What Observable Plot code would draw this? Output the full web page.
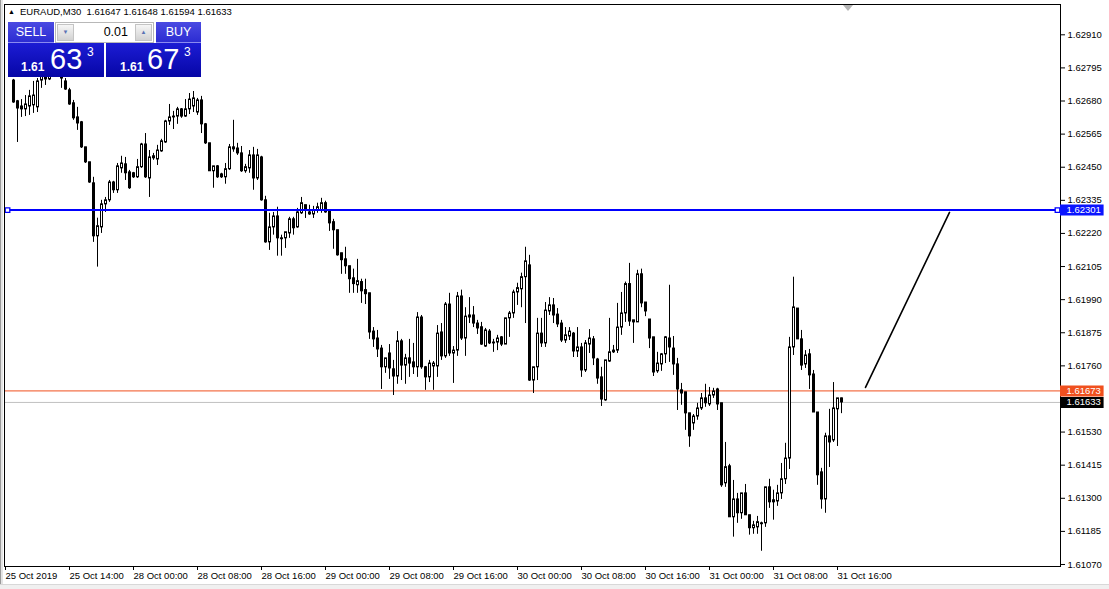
<!DOCTYPE html>
<html><head><meta charset="utf-8">
<script src="https://cdn.jsdelivr.net/npm/d3@7"></script>
<script src="https://cdn.jsdelivr.net/npm/@observablehq/plot@0.6"></script>
<style>
html,body{margin:0;padding:0;background:#fff;}
#wrap{position:relative;width:1109px;height:589px;overflow:hidden;background:#fff;font-family:"Liberation Sans",Arial,sans-serif;}
#chart{position:absolute;left:0;top:0;}
.edgeL{position:absolute;left:0;top:0;width:1px;height:589px;background:#9a9a9a;}
.edgeL2{position:absolute;left:1px;top:0;width:2px;height:589px;background:#e4e4e4;}
.edgeB{position:absolute;left:0;top:584px;width:1109px;height:5px;background:#f0f0f0;border-top:1px solid #d8d8d8;}
.shift{position:absolute;left:843px;top:5px;width:0;height:0;border-left:5px solid transparent;border-right:5px solid transparent;border-top:6px solid #b4b4b4;}
.hdr{position:absolute;left:20px;top:6px;font-size:9.5px;line-height:12px;color:#000;white-space:pre;}
.tri{position:absolute;left:8px;top:6px;font-size:7px;line-height:12px;color:#000;}
.btn{position:absolute;top:22px;height:21px;line-height:21px;color:#fff;font-size:12.5px;text-align:center;background:linear-gradient(#4a4ae2,#2c2cd2);box-sizing:border-box;border-bottom:1px solid #8a8af0;}
.lot{position:absolute;left:55px;top:22px;width:99px;height:21px;background:#fff;border:1px solid #b8b8b8;box-sizing:border-box;}
.arr{position:absolute;top:24px;width:17px;height:17px;background:linear-gradient(#f6f6f6,#d2d2d2);border:1px solid #c4c4c4;box-sizing:border-box;color:#5a72b4;font-size:6px;line-height:15px;text-align:center;}
.lotv{position:absolute;left:78px;top:22px;width:50px;height:21px;line-height:21px;text-align:right;font-size:12.5px;color:#000;}
.pbox{position:absolute;top:43px;height:34px;background:linear-gradient(#1c1cd4,#0606a6);}
.pbox span{position:absolute;color:#fff;line-height:1;white-space:pre;}
.sm{font-size:12px;font-weight:bold;top:18px;}
.big{font-size:29px;top:2px;}
.sup{font-size:12px;top:3px;}
</style></head>
<body><div id="wrap"><div id="chart"></div></div>
<script>
// ---- data (EURAUD M30, bar index 0 = first visible bar) ----
const symbolName = "EURAUD,M30";
const open = [
1.62751,1.62679,1.62661,1.62651,1.62661,1.62665,1.62658,1.62751,1.62786,1.62755,1.62786,1.62803,1.62758,1.62748,1.62717,1.62672,
1.62623,1.62606,1.62519,1.62467,1.62394,1.62210,1.62241,1.62321,1.62335,1.62397,1.62370,1.62446,1.62460,1.62432,1.62429,1.62415,
1.62450,1.62529,1.62411,1.62488,1.62477,1.62505,1.62536,1.62609,1.62626,1.62626,1.62651,1.62626,1.62651,1.62661,1.62640,1.62682,
1.62599,1.62533,1.62436,1.62453,1.62425,1.62415,1.62443,1.62519,1.62515,1.62498,1.62436,1.62446,1.62491,1.62411,1.62484,1.62335,
1.62189,1.62241,1.62279,1.62203,1.62203,1.62220,1.62269,1.62241,1.62290,1.62318,1.62293,1.62286,1.62300,1.62300,1.62325,1.62297,
1.62259,1.62231,1.62151,1.62130,1.62106,1.62064,1.62040,1.62051,1.62023,1.62012,1.61879,1.61855,1.61820,1.61755,1.61803,1.61748,
1.61723,1.61845,1.61761,1.61786,1.61772,1.61755,1.61928,1.61755,1.61720,1.61758,1.61758,1.61876,1.61793,1.61973,1.61803,1.61813,
1.62001,1.61855,1.61935,1.61935,1.61907,1.61894,1.61827,1.61879,1.61841,1.61841,1.61859,1.61834,1.61925,1.61942,1.62015,1.62026,
1.62068,1.62109,1.61709,1.61755,1.61872,1.61838,1.61949,1.61970,1.61938,1.61907,1.61848,1.61862,1.61872,1.61810,1.61824,1.61744,
1.61834,1.61852,1.61782,1.61720,1.61640,1.61775,1.61807,1.61813,1.61893,1.61942,1.62044,1.61918,1.61911,1.62078,1.61980,1.61921,
1.61859,1.61741,1.61765,1.61800,1.61855,1.61820,1.61765,1.61675,1.61668,1.61595,1.61560,1.61584,1.61612,1.61647,1.61626,1.61657,
1.61678,1.61630,1.61352,1.61411,1.61234,1.61296,1.61248,1.61317,1.61241,1.61196,1.61199,1.61213,1.61213,1.61338,1.61293,1.61289,
1.61317,1.61366,1.61438,1.61824,1.61959,1.61852,1.61765,1.61800,1.61730,1.61598,1.61390,1.61296,1.61515,1.61501,1.61609,1.61647];
const high = [
1.62755,1.62682,1.62685,1.62699,1.62717,1.62748,1.62758,1.62803,1.62814,1.62821,1.62838,1.62828,1.62800,1.62758,1.62724,1.62682,
1.62658,1.62609,1.62519,1.62467,1.62415,1.62273,1.62335,1.62345,1.62404,1.62401,1.62463,1.62488,1.62484,1.62439,1.62432,1.62477,
1.62533,1.62567,1.62508,1.62498,1.62526,1.62547,1.62613,1.62668,1.62644,1.62658,1.62654,1.62685,1.62706,1.62713,1.62689,1.62696,
1.62602,1.62533,1.62453,1.62456,1.62429,1.62463,1.62529,1.62613,1.62533,1.62522,1.62460,1.62508,1.62519,1.62512,1.62488,1.62349,
1.62290,1.62293,1.62311,1.62214,1.62224,1.62276,1.62276,1.62307,1.62345,1.62318,1.62318,1.62314,1.62325,1.62342,1.62332,1.62300,
1.62269,1.62231,1.62151,1.62172,1.62106,1.62096,1.62130,1.62061,1.62061,1.62012,1.61893,1.61883,1.61831,1.61786,1.61834,1.61779,
1.61879,1.61852,1.61800,1.61852,1.61838,1.61945,1.61935,1.61758,1.61779,1.61775,1.61900,1.61907,1.61980,1.62012,1.61827,1.62015,
1.62023,1.61962,1.61997,1.61966,1.61918,1.61911,1.61890,1.61886,1.61852,1.61866,1.61862,1.61925,1.61949,1.62023,1.62047,1.62082,
1.62172,1.62144,1.61755,1.61925,1.61925,1.61980,1.61997,1.61994,1.61959,1.61918,1.61893,1.61893,1.61876,1.61893,1.61838,1.61848,
1.61886,1.61862,1.61786,1.61755,1.61779,1.61925,1.61831,1.61977,1.62015,1.62051,1.62116,1.61918,1.62092,1.62096,1.61980,1.61921,
1.61859,1.61807,1.61803,1.61862,1.62040,1.61862,1.61786,1.61699,1.61668,1.61595,1.61591,1.61630,1.61664,1.61696,1.61685,1.61682,
1.61682,1.61630,1.61494,1.61418,1.61362,1.61317,1.61317,1.61348,1.61241,1.61220,1.61237,1.61217,1.61338,1.61366,1.61328,1.61345,
1.61421,1.61491,1.61859,1.62068,1.61959,1.61883,1.61813,1.61817,1.61744,1.61598,1.61404,1.61526,1.61609,1.61702,1.61647,1.61648];
const low = [
1.62672,1.62536,1.62623,1.62626,1.62630,1.62637,1.62640,1.62724,1.62734,1.62751,1.62769,1.62765,1.62724,1.62717,1.62665,1.62613,
1.62578,1.62515,1.62463,1.62394,1.62189,1.62103,1.62220,1.62293,1.62328,1.62359,1.62359,1.62429,1.62404,1.62373,1.62411,1.62411,
1.62446,1.62411,1.62345,1.62474,1.62456,1.62502,1.62533,1.62595,1.62581,1.62599,1.62620,1.62623,1.62633,1.62640,1.62630,1.62567,
1.62529,1.62436,1.62377,1.62411,1.62411,1.62391,1.62439,1.62502,1.62491,1.62432,1.62429,1.62429,1.62370,1.62404,1.62332,1.62186,
1.62161,1.62214,1.62141,1.62141,1.62168,1.62203,1.62214,1.62238,1.62286,1.62272,1.62283,1.62272,1.62290,1.62290,1.62290,1.62227,
1.62165,1.62141,1.62078,1.62078,1.62012,1.62012,1.62012,1.61977,1.61973,1.61852,1.61824,1.61789,1.61678,1.61734,1.61713,1.61657,
1.61696,1.61709,1.61696,1.61720,1.61730,1.61720,1.61748,1.61675,1.61702,1.61675,1.61720,1.61779,1.61786,1.61793,1.61699,1.61793,
1.61848,1.61793,1.61907,1.61893,1.61869,1.61831,1.61824,1.61834,1.61807,1.61813,1.61827,1.61834,1.61859,1.61925,1.61970,1.61962,
1.61907,1.61706,1.61664,1.61709,1.61824,1.61824,1.61935,1.61907,1.61893,1.61841,1.61838,1.61848,1.61789,1.61789,1.61720,1.61737,
1.61803,1.61761,1.61696,1.61619,1.61637,1.61772,1.61803,1.61803,1.61866,1.61911,1.61897,1.61838,1.61911,1.61962,1.61931,1.61820,
1.61723,1.61734,1.61741,1.61768,1.61772,1.61727,1.61605,1.61623,1.61536,1.61477,1.61536,1.61571,1.61605,1.61616,1.61619,1.61647,
1.61605,1.61338,1.61338,1.61234,1.61165,1.61213,1.61227,1.61241,1.61172,1.61175,1.61175,1.61116,1.61199,1.61265,1.61224,1.61272,
1.61296,1.61348,1.61400,1.61796,1.61852,1.61744,1.61751,1.61678,1.61598,1.61345,1.61262,1.61248,1.61407,1.61494,1.61480,1.61594];
const close = [
1.62675,1.62654,1.62651,1.62668,1.62696,1.62699,1.62748,1.62779,1.62755,1.62786,1.62803,1.62779,1.62779,1.62720,1.62668,1.62620,
1.62602,1.62519,1.62467,1.62397,1.62210,1.62245,1.62321,1.62335,1.62397,1.62370,1.62453,1.62463,1.62429,1.62377,1.62415,1.62450,
1.62529,1.62415,1.62484,1.62481,1.62508,1.62540,1.62609,1.62623,1.62623,1.62651,1.62626,1.62651,1.62685,1.62689,1.62682,1.62599,
1.62533,1.62436,1.62453,1.62415,1.62415,1.62443,1.62519,1.62512,1.62498,1.62436,1.62450,1.62491,1.62411,1.62491,1.62335,1.62189,
1.62241,1.62279,1.62203,1.62200,1.62224,1.62269,1.62238,1.62293,1.62325,1.62300,1.62286,1.62300,1.62311,1.62325,1.62293,1.62255,
1.62231,1.62144,1.62127,1.62106,1.62061,1.62044,1.62054,1.62019,1.62009,1.61876,1.61852,1.61817,1.61755,1.61786,1.61751,1.61723,
1.61845,1.61761,1.61786,1.61768,1.61755,1.61928,1.61755,1.61720,1.61768,1.61768,1.61872,1.61793,1.61973,1.61803,1.61813,1.62001,
1.61855,1.61931,1.61928,1.61907,1.61890,1.61834,1.61883,1.61838,1.61838,1.61855,1.61834,1.61925,1.61942,1.62015,1.62030,1.62068,
1.62123,1.61709,1.61755,1.61872,1.61838,1.61952,1.61970,1.61935,1.61904,1.61848,1.61866,1.61879,1.61810,1.61824,1.61744,1.61838,
1.61855,1.61786,1.61716,1.61643,1.61779,1.61807,1.61813,1.61893,1.61942,1.62044,1.61914,1.61911,1.62078,1.61977,1.61949,1.61855,
1.61737,1.61768,1.61800,1.61859,1.61824,1.61765,1.61678,1.61664,1.61595,1.61515,1.61584,1.61612,1.61647,1.61630,1.61657,1.61671,
1.61626,1.61345,1.61408,1.61234,1.61296,1.61248,1.61317,1.61241,1.61196,1.61206,1.61217,1.61210,1.61338,1.61286,1.61286,1.61317,
1.61366,1.61438,1.61824,1.61963,1.61852,1.61761,1.61796,1.61727,1.61598,1.61380,1.61296,1.61515,1.61494,1.61612,1.61647,1.61633];

// time axis: bar index of each label
const timeTickBars = [-2, 14, 30, 46, 62, 78, 94, 110, 126, 142, 158, 174, 190, 206];
const timeTickLabels = ["25 Oct 2019","25 Oct 14:00","28 Oct 00:00","28 Oct 08:00","28 Oct 16:00","29 Oct 00:00","29 Oct 08:00","29 Oct 16:00","30 Oct 00:00","30 Oct 08:00","30 Oct 16:00","31 Oct 00:00","31 Oct 08:00","31 Oct 16:00"];
// price axis ticks (the 1.61645 tick is covered by the bid/ask tags)
const priceTicks = [1.62910,1.62795,1.62680,1.62565,1.62450,1.62335,1.62220,1.62105,1.61990,1.61875,1.61760,1.61530,1.61415,1.61300,1.61185,1.61070];
// levels
const levelPrice = 1.62301;
const askPrice = 1.61673;
const bidPrice = 1.61633;
const levelAnchorBars = [-1.5, 261];
// trend line object (bar index, price)
const trendBars = [213, 234];
const trendPrices = [1.61685, 1.62293];
const lotSize = "0.01";

// ---- build ----
const n = Math.min(open.length, high.length, low.length, close.length);
const bars = d3.range(n).map(i => ({i, open: open[i], high: high[i], low: low[i], close: close[i]}));
const tickMap = new Map(timeTickBars.map((b, k) => [b, timeTickLabels[k]]));
const xDomain = [-2.25, 261.75];
const yDomain = [1.6106305, 1.6301525];
const askColor = "#f0501e";
const tags = [
  {price: levelPrice, bg: "#0a14ff"},
  {price: askPrice, bg: askColor},
  {price: bidPrice, bg: "#000000"}
];
const anchors = levelAnchorBars.map(b => ({bar: b, price: levelPrice}));
const trend = trendBars.map((b, k) => ({bar: b, price: trendPrices[k]}));

const chart = Plot.plot({
  width: 1109, height: 589,
  marginLeft: 4, marginRight: 49, marginTop: 4, marginBottom: 23,
  style: {fontFamily: "'Liberation Sans', Arial, sans-serif", fontSize: "9.5px", background: "transparent", color: "#000"},
  x: {type: "linear", domain: xDomain},
  y: {type: "linear", domain: yDomain},
  marks: [
    Plot.ruleY([bidPrice], {stroke: "#c0c0c0", strokeWidth: 1}),
    Plot.ruleY([askPrice], {stroke: askColor, strokeWidth: 1}),
    Plot.ruleX(bars, {x: "i", y1: d => Math.min(d.low, d.open, d.close), y2: d => Math.max(d.high, d.open, d.close), stroke: "#000", strokeWidth: 1}),
    Plot.rect(bars, {x1: d => d.i - 0.25, x2: d => d.i + 0.25, y1: "open", y2: "close", dx: 0.5,
      fill: d => d.close > d.open ? "#ffffff" : "#000000", stroke: "#000", strokeWidth: 1}),
    Plot.ruleY(bars.filter(d => d.open === d.close), {y: "close", x1: d => d.i - 0.375, x2: d => d.i + 0.375, stroke: "#000"}),
    Plot.ruleY([levelPrice], {stroke: "#0000ff", strokeWidth: 2}),
    Plot.dot(anchors, {x: "bar", y: "price", symbol: "square", r: 2.6, fill: "#fff", stroke: "#0000ff", strokeWidth: 1.3}),
    Plot.line(trend, {x: "bar", y: "price", stroke: "#000", strokeWidth: 1.6}),
    Plot.frame({stroke: "#000"}),
    Plot.axisY({ticks: priceTicks, anchor: "right", tickSize: 4, tickPadding: 3, tickFormat: d => d.toFixed(5), textAnchor: "start", fontSize: 9.5, label: null}),
    Plot.ruleY(tags, {y: "price", x1: () => xDomain[1], x2: () => xDomain[1] + 10.9, stroke: "bg", strokeWidth: 11}),
    Plot.text(tags, {y: "price", x: () => xDomain[1], dx: 6, text: d => d.price.toFixed(5), fill: "#fff", textAnchor: "start", fontSize: 9.5}),
    Plot.axisX({ticks: timeTickBars, anchor: "bottom", tickSize: 4, tickPadding: 2, tickFormat: d => tickMap.get(d), textAnchor: "start", fontSize: 9.5, label: null})
  ]
});
document.getElementById("chart").appendChild(chart);

// ---- overlays: edges, header, one-click trading panel ----
const wrap = document.getElementById("wrap");
function add(cls, html, style) {
  const el = document.createElement("div");
  el.className = cls;
  if (html != null) el.innerHTML = html;
  if (style) el.setAttribute("style", style);
  wrap.appendChild(el);
  return el;
}
add("edgeL"); add("edgeL2"); add("edgeB"); add("shift");
const last = bars[n - 1];
add("tri", "&#9650;");
add("hdr", symbolName + "  " + [last.open, last.high, last.low, last.close].map(v => v.toFixed(5)).join(" "));
add("btn", "SELL", "left:8px;width:46px;");
add("btn", "BUY", "left:156px;width:45px;");
add("lot");
add("arr", "&#9660;", "left:57px;");
add("arr", "&#9650;", "left:135px;");
add("lotv", lotSize);
function priceParts(p) {
  const s = p.toFixed(5);
  return [s.slice(0, 4), s.slice(4, 6), s.slice(6)];
}
function priceBox(left, p, pos) {
  const [a, b, c] = priceParts(p);
  const box = add("pbox", null, "left:" + left + "px;width:" + pos.w + "px;");
  box.innerHTML = '<span class="sm" style="left:' + pos.a + 'px">' + a + '</span>' +
    '<span class="big" style="left:' + pos.b + 'px">' + b + '</span>' +
    '<span class="sup" style="left:' + pos.c + 'px">' + c + '</span>';
}
priceBox(8, bidPrice, {w: 96, a: 13, b: 42, c: 79});
priceBox(106, askPrice, {w: 95, a: 14, b: 41, c: 78});
</script>
</body></html>
